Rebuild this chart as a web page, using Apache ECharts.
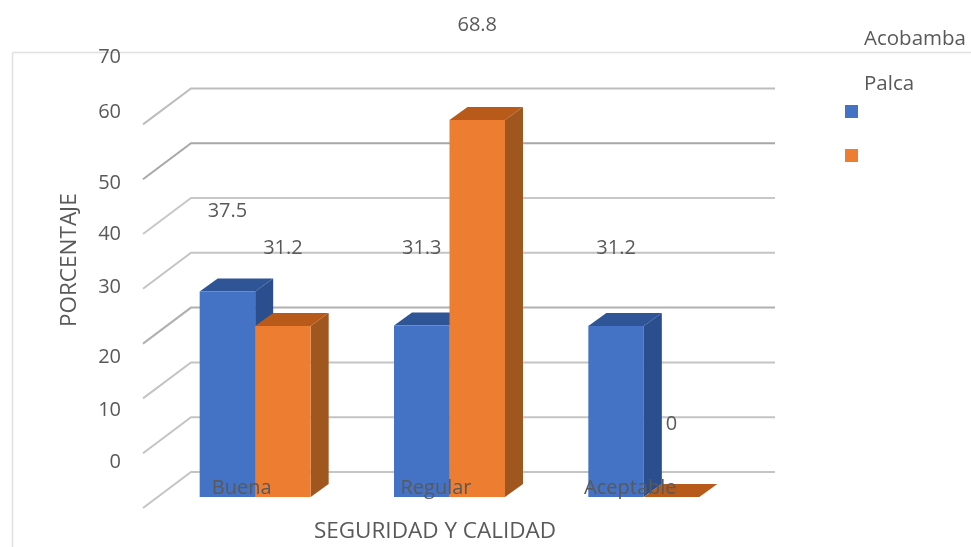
<!DOCTYPE html>
<html>
<head>
<meta charset="utf-8">
<style>html,body{margin:0;padding:0;background:#fff}#chart{width:971px;height:547px}</style>
<script src="https://cdn.jsdelivr.net/npm/echarts@6/dist/echarts.min.js"></script>
</head>
<body>
<div id="chart"></div>
<script>
const categories = ['Buena', 'Regular', 'Aceptable'];
const acobamba = [37.5, 31.3, 31.2];
const palca = [31.2, 68.8, 0];
const axisTicks = [0, 10, 20, 30, 40, 50, 60, 70];

// Pixel layout of the pseudo-3D box and of the loosely placed labels
const FONT = '"Open Sans", sans-serif';
const TEXT = '#595959';
const BACK = [33, -25], FRONT = [-15, 11], DEPTH = [18, -13], HALF_BAR = 55.5;
const wallRight = 775;
const wallTones = ['#c4c4c4', '#c4c4c4', '#c4c4c4', '#b0b0b0', '#c4c4c4', '#c8c8c8', '#a8a8a8', '#bdbdbd'];
const tickLabelY = [462, 410, 357, 287, 234, 183, 112, 57];
const tickLabelRight = 121;
const liftAcobamba = [-80, -77.5, -77.5];
const liftPalca = [-77.5, -95, -72.5];

function poly(points, fill) {
  return { type: 'polygon', shape: { points }, style: { fill } };
}

function barSeries(name, values, lifts, front, top, side, sign) {
  return {
    name, type: 'custom', z: 3,
    itemStyle: { color: front },
    data: values.map((v, i) => [i, v, lifts[i]]),
    renderItem(params, api) {
      const base = api.coord([api.value(0), 0]);
      const tip = api.coord([api.value(0), api.value(1)]);
      const x0 = sign < 0 ? base[0] - HALF_BAR : base[0];
      const x1 = x0 + HALF_BAR;
      const [dx, dy] = DEPTH;
      return {
        type: 'group',
        children: [
          poly([[x1, tip[1]], [x1 + dx, tip[1] + dy], [x1 + dx, base[1] + dy], [x1, base[1]]], side),
          poly([[x0, tip[1]], [x1, tip[1]], [x1 + dx, tip[1] + dy], [x0 + dx, tip[1] + dy]], top),
          poly([[x0, tip[1]], [x1, tip[1]], [x1, base[1]], [x0, base[1]]], front),
          {
            type: 'text', z2: 20,
            style: {
              x: (x0 + x1) / 2, y: tip[1] + api.value(2), text: String(api.value(1)),
              fill: TEXT, font: '20px ' + FONT, align: 'center', verticalAlign: 'middle'
            }
          }
        ]
      };
    }
  };
}

const chart = echarts.init(document.getElementById('chart'), null, { renderer: 'canvas' });
chart.setOption({
  animation: false,
  backgroundColor: '#fff',
  grid: { left: 158, right: 230, top: 113.4, bottom: 50, outerBoundsMode: 'none' },
  xAxis: {
    type: 'category', data: categories, z: 10,
    axisLine: { show: false }, axisTick: { show: false }, splitLine: { show: false },
    axisLabel: { color: TEXT, fontSize: 20, fontFamily: FONT, margin: -19, padding: [0, 27, 0, 0] },
    name: 'SEGURIDAD Y CALIDAD', nameLocation: 'middle', nameGap: 23,
    nameTextStyle: { color: TEXT, fontSize: 22.5, fontFamily: FONT, padding: [0, 29, 0, 0] }
  },
  yAxis: {
    type: 'value', min: 0, max: 70, interval: 10,
    axisLine: { show: false }, axisTick: { show: false }, splitLine: { show: false }, axisLabel: { show: false },
    name: 'PORCENTAJE', nameLocation: 'middle', nameGap: 77,
    nameTextStyle: { color: TEXT, fontSize: 22.5, fontFamily: FONT, padding: [0, 0, 0, 90] }
  },
  legend: {
    data: ['Acobamba', 'Palca'], orient: 'vertical', left: 840, top: 100,
    itemWidth: 13, itemHeight: 13, itemGap: 31, icon: 'rect', formatter: () => ' ',
    textStyle: { fontSize: 1 }, selectedMode: false
  },
  graphic: [
    { type: 'line', silent: true, shape: { x1: 12.5, y1: 52.5, x2: 971, y2: 52.5 }, style: { stroke: '#e0e0e0', lineWidth: 1.5 } },
    { type: 'line', silent: true, shape: { x1: 12.5, y1: 52.5, x2: 12.5, y2: 547 }, style: { stroke: '#e0e0e0', lineWidth: 1.5 } },
    { type: 'text', left: 864, top: 29, style: { text: 'Acobamba', fill: TEXT, font: '20.5px ' + FONT } },
    { type: 'text', left: 864, top: 74, style: { text: 'Palca', fill: TEXT, font: '20.5px ' + FONT } }
  ],
  series: [
    {
      // Walls: one polyline per tick, running along the side wall and then the back wall
      type: 'custom', z: 1, silent: true,
      data: axisTicks.map(t => [t]),
      renderItem(params, api) {
        const p = api.coord([0, api.value(0)]);
        const y = p[1], lx = params.coordSys.x;
        return {
          type: 'polyline',
          shape: { points: [[lx + FRONT[0], y + FRONT[1]], [lx + BACK[0], y + BACK[1]], [wallRight, y + BACK[1]]] },
          style: { fill: 'none', stroke: wallTones[params.dataIndex], lineWidth: 2 }
        };
      }
    },
    {
      // Axis numbers, sitting to the left of the side wall
      type: 'custom', z: 2, silent: true,
      data: axisTicks.map(t => [t]),
      renderItem(params, api) {
        return {
          type: 'text',
          style: {
            x: tickLabelRight, y: tickLabelY[params.dataIndex], text: String(api.value(0)),
            fill: TEXT, font: '20px ' + FONT, align: 'right', verticalAlign: 'middle'
          }
        };
      }
    },
    barSeries('Acobamba', acobamba, liftAcobamba, '#4472C4', '#2F5597', '#2B4E8E', -1),
    barSeries('Palca', palca, liftPalca, '#ED7D31', '#B85A1A', '#A0561F', 1)
  ]
});
</script>
</body>
</html>
